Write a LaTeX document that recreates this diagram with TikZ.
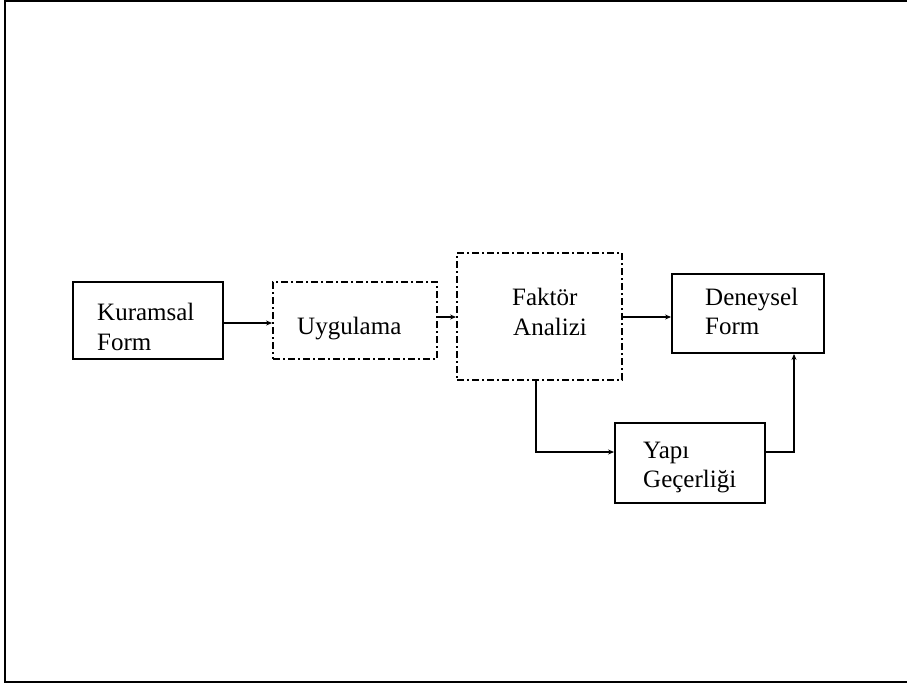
\documentclass[tikz,border=0pt]{standalone}
\usepackage{fontspec}
\setmainfont{Liberation Serif}
\usetikzlibrary{arrows.meta}
\begin{document}
\begin{tikzpicture}[x=1pt,y=-1pt,
  box/.style={draw, line width=1.9pt, rectangle, inner sep=0pt},
  dashbox/.style={box, dash pattern=on 7pt off 3pt on 2pt off 3pt},
  lbl/.style={anchor=base west, inner sep=0pt, font=\fontsize{25}{30}\selectfont},
  conn/.style={line width=1.6pt, -{Stealth[length=6pt,width=5pt]}}]
\useasboundingbox (0,0) rectangle (907,686);
% outer frame (right edge falls outside the page)
\draw[line width=2.4pt] (5,1) rectangle (912,682);

% boxes
\node[box, minimum width=150pt, minimum height=77pt] (kur) at (148,320.5) {};
\node[dashbox, minimum width=164pt, minimum height=77pt] (uyg) at (355,320.5) {};
\node[dashbox, minimum width=165pt, minimum height=127pt] (fak) at (539.5,316.5) {};
\node[box, minimum width=152pt, minimum height=79pt] (den) at (748,313.5) {};
\node[box, minimum width=150pt, minimum height=80pt] (yap) at (690,463) {};

% box texts
\node[lbl] (kur1) at (97,320) {Kuramsal};
\node[lbl] (kur2) at (97,350) {Form};
\node[lbl] (uyg1) at (297,334) {Uygulama};
\node[lbl] (fak1) at (512,305) {Faktör};
\node[lbl] (fak2) at (513,335) {Analizi};
\node[lbl] (den1) at (705,305) {Deneysel};
\node[lbl] (den2) at (705,334) {Form};
\node[lbl] (yap1) at (643,458) {Yapı};
\node[lbl] (yap2) at (643,487) {Geçerliği};

% connectors
\draw[conn] ([yshift=-2.5pt]kur.east) -- ([yshift=-2.5pt]kur.east -| uyg.west);
\draw[conn] ([yshift=3.5pt]uyg.east) -- ([yshift=3.5pt]uyg.east -| fak.west);
\draw[conn] ([yshift=-0.5pt]fak.east) -- ([yshift=-0.5pt]fak.east -| den.west);
\draw[conn] ([xshift=-3.5pt]fak.south) |- ([yshift=11pt]yap.west);
\draw[conn] ([yshift=11pt]yap.east) -| ([xshift=46pt]den.south);
\end{tikzpicture}
\end{document}
